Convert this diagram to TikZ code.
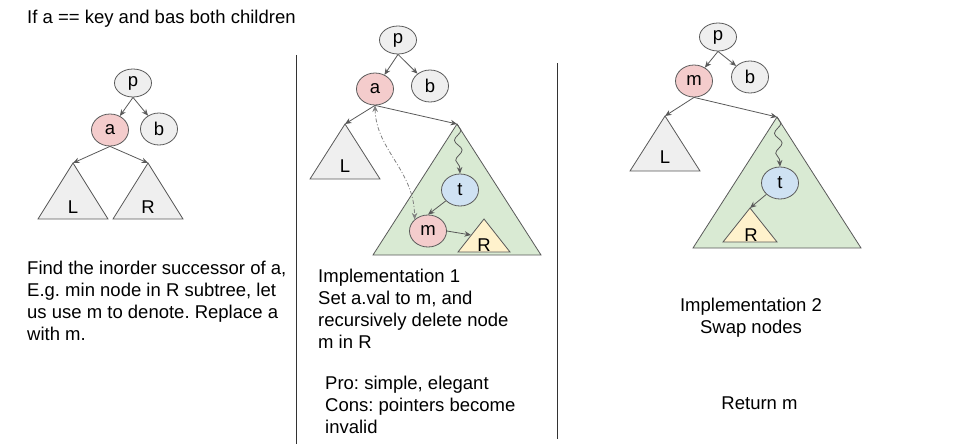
\documentclass[tikz,border=0pt]{standalone}
\usepackage{fontspec}
\setmainfont{Liberation Sans}
\frenchspacing
\usetikzlibrary{shapes.geometric,arrows.meta,decorations.pathmorphing}

\definecolor{linegray}{HTML}{595959}
\definecolor{nodegray}{HTML}{EFEFEF}
\definecolor{nodepink}{HTML}{F4CCCC}
\definecolor{nodeblue}{HTML}{CFE2F3}
\definecolor{treegreen}{HTML}{D9EAD3}
\definecolor{treeyellow}{HTML}{FFF2CC}

\tikzset{
    treenode/.style={ellipse, draw=linegray, line width=0.8pt, fill=nodegray,
        minimum width=37pt, minimum height=32pt, inner sep=0pt},
    rootnode/.style={treenode, minimum height=28pt},
    subtree/.style={draw=linegray, line width=0.8pt},
    edge/.style={draw=linegray, line width=0.8pt, -{Stealth[length=6.5pt,width=5.5pt]}},
    pathedge/.style={edge, decorate,
        decoration={snake, amplitude=3.5pt, segment length=20pt, post length=5pt}},
    swapedge/.style={draw=gray, line width=0.8pt, dash pattern=on 4pt off 2pt on 1pt off 2pt,
        {Stealth[length=6.5pt,width=5.5pt]}-{Stealth[length=6.5pt,width=5.5pt]}},
    divider/.style={draw=black!80, line width=0.8pt},
    note/.style={anchor=base west, align=left, inner sep=0pt}
}

\begin{document}
\begin{tikzpicture}[x=1pt, y=-1pt, font=\fontsize{18.5}{22}\selectfont]
        \useasboundingbox (0,0) rectangle (960,444);

        % panel 1: the case (notes sit on the baseline of their last line)
        \node[note] (title) at (27,24) {If a == key and bas both children};
        \node[rootnode] (p1) at (133,83) {p};
        \node[treenode, fill=nodepink] (a1) at (110,130) {a};
        \node[treenode] (b1) at (159,129) {b};
        \draw[subtree, fill=nodegray] (73,163) coordinate (L1) -- ++(35,56) -- ++(-70,0) -- cycle;
        \draw[subtree, fill=nodegray] (148,163) coordinate (R1) -- ++(35,56) -- ++(-70,0) -- cycle;
        \node (L1lbl) at (73,207) {L};
        \node (R1lbl) at (148,207) {R};
        \draw[edge] (p1.south) -- (a1);
        \draw[edge] (p1.south) -- (b1);
        \draw[edge] (a1.south) -- (L1);
        \draw[edge] (a1.south) -- (R1);
        \node[note] (idea) at (27,340) {Find the inorder successor of a,\\E.g. min node in R subtree, let\\us use m to denote. Replace a\\with m.};

        \draw[divider] (296,55) -- (296,444);

        % panel 2: implementation 1
        \node[rootnode] (p2) at (398,40) {p};
        \node[treenode, fill=nodepink] (a2) at (375,89) {a};
        \node[treenode] (b2) at (430,86) {b};
        \draw[subtree, fill=nodegray] (345,124) coordinate (L2) -- ++(35,55) -- ++(-70,0) -- cycle;
        \draw[subtree, fill=treegreen] (457,124) coordinate (G2) -- ++(84,131) -- ++(-168,0) -- cycle;
        \node (L2lbl) at (345,166) {L};
        \node[treenode, fill=nodeblue] (t2) at (460,190) {t};
        \node[treenode, fill=nodepink] (m2) at (428,231) {m};
        \draw[subtree, fill=treeyellow] (484,219) coordinate (R2) -- ++(26,33) -- ++(-52,0) -- cycle;
        \node (R2lbl) at (484,245) {R};
        \coordinate (R2in) at (471,235);
        \draw[edge] (p2.south) -- (a2);
        \draw[edge] (p2.south) -- (b2);
        \draw[edge] (a2.south) -- (L2);
        \draw[edge] (a2.south) -- (G2);
        \draw[pathedge] (G2) -- (t2.north);
        \draw[edge] (t2) -- (m2.north);
        \draw[edge] (m2.east) -- (R2in);
        \draw[swapedge] (a2.south) .. controls (376,150) and (414,170) .. (m2.north west);
        \node[note] (impl1) at (318,348) {Implementation 1\\Set a.val to m, and\\recursively delete node\\m in R};
        \node[note] (procon) at (325,433) {Pro: simple, elegant\\Cons: pointers become\\invalid};

        \draw[divider] (557,63) -- (557,439);

        % panel 3: implementation 2
        \node[rootnode] (p3) at (718,37) {p};
        \node[treenode, fill=nodepink] (m3) at (694,81) {m};
        \node[treenode] (b3) at (750,77) {b};
        \draw[subtree, fill=nodegray] (665,116) coordinate (L3) -- ++(35,55) -- ++(-70,0) -- cycle;
        \draw[subtree, fill=treegreen] (777,117) coordinate (G3) -- ++(84,131) -- ++(-168,0) -- cycle;
        \node (L3lbl) at (665,157) {L};
        \node[treenode, fill=nodeblue] (t3) at (780,183) {t};
        \draw[subtree, fill=treeyellow] (750,208) coordinate (R3) -- ++(27,34) -- ++(-54,0) -- cycle;
        \node (R3lbl) at (751,235) {R};
        \draw[edge] (p3.south) -- (m3);
        \draw[edge] (p3.south) -- (b3);
        \draw[edge] (m3.south) -- (L3);
        \draw[edge] (m3.south) -- (G3);
        \draw[pathedge] (G3) -- (t3.north);
        \draw[edge] (t3) -- (R3);
        \node[note, anchor=base, align=center] (impl2) at (751,333) {Implementation 2\\Swap nodes};
        \node[anchor=base] (ret) at (759.5,409) {Return m};
\end{tikzpicture}
\end{document}
